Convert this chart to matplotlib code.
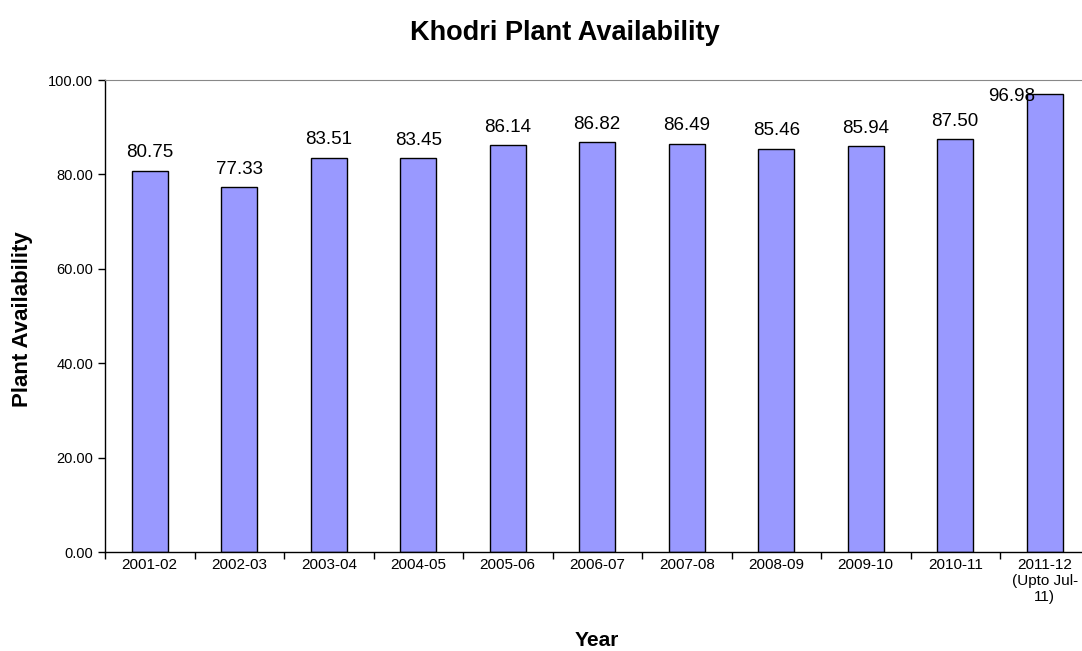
import matplotlib
matplotlib.use("Agg")
import matplotlib.pyplot as plt
import numpy as np

plt.rcParams['font.family'] = ['Liberation Sans', 'DejaVu Sans']

# Datos
years = ["2001-02", "2002-03", "2003-04", "2004-05", "2005-06", "2006-07",
         "2007-08", "2008-09", "2009-10", "2010-11", "2011-12\n(Upto Jul-\n11)"]
availability = [80.75, 77.33, 83.51, 83.45, 86.14, 86.82, 86.49, 85.46, 85.94, 87.50, 96.98]

fig = plt.figure(figsize=(10.82, 6.51), dpi=100)
ax = fig.add_axes([105 / 1082, 99 / 651, 984.5 / 1082, 472 / 651])

x = np.arange(len(years))
ax.bar(x, availability, width=0.40, color="#9999FF", edgecolor="black", linewidth=1.0, zorder=2)

# Etiquetas de valores
for i, v in enumerate(availability):
    if i == len(availability) - 1:
        ax.text(i - 0.37, v - 0.4, f"{v:.2f}", ha="center", va="center", fontsize=13.5, zorder=3)
    else:
        ax.text(i, v + 3.8, f"{v:.2f}", ha="center", va="center", fontsize=13.5, zorder=3)

ax.set_xlim(-0.5, len(years) - 0.5)
ax.set_ylim(0, 100)
ax.set_yticks(np.arange(0, 101, 20))
ax.set_yticklabels([f"{t:.2f}" for t in np.arange(0, 101, 20)], fontsize=10.5)

# Marcas entre categorias
ax.set_xticks(np.arange(-0.5, len(years) - 0.4, 1.0))
ax.set_xticklabels([])
ax.set_xticks(x, minor=True)
ax.set_xticklabels(years, minor=True, fontsize=11)
ax.tick_params(axis="x", which="minor", length=0, pad=4)
ax.tick_params(axis="x", which="major", length=5, direction="out", width=1)
ax.tick_params(axis="y", length=5, direction="out", width=1)

ax.spines["right"].set_visible(False)
ax.spines["top"].set_color("#888888")
ax.spines["left"].set_linewidth(1)
ax.spines["bottom"].set_linewidth(1)

fig.text(565 / 1082, 1 - 33 / 651, "Khodri Plant Availability", ha="center", va="center",
         fontsize=19.5, fontweight="bold")
fig.text(23 / 1082, 1 - 319 / 651, "Plant Availability", ha="center", va="center",
         rotation=90, fontsize=16, fontweight="bold")
fig.text(597 / 1082, 1 - 641 / 651, "Year", ha="center", va="center",
         fontsize=15, fontweight="bold")

fig.savefig("out.png", dpi=100)
